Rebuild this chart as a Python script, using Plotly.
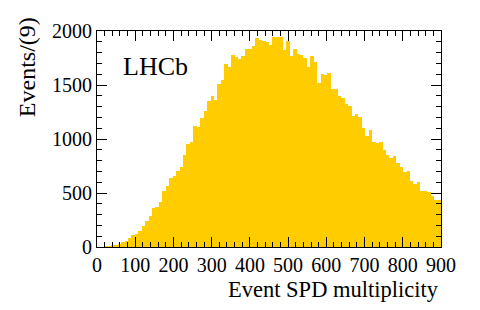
import numpy as np
import plotly.graph_objects as go

# Histogram: Event SPD multiplicity, bin width 9, range 0-900
bin_width = 9
x_min, x_max = 0, 900
counts = [
    0, 0, 2, 5, 10, 14, 27, 45, 52, 80,
    113, 122, 146, 191, 245, 285, 360, 368, 420, 520,
    565, 640, 660, 700, 740, 848, 950, 974, 1122, 1108,
    1198, 1262, 1356, 1399, 1361, 1512, 1543, 1697, 1663, 1780,
    1757, 1745, 1771, 1832, 1832, 1861, 1936, 1920, 1910, 1900,
    1872, 1947, 1942, 1944, 1824, 1903, 1765, 1830, 1790, 1776,
    1749, 1669, 1765, 1714, 1516, 1602, 1594, 1614, 1463, 1466,
    1394, 1380, 1323, 1305, 1214, 1229, 1203, 1100, 1030, 1084,
    976, 960, 972, 900, 855, 826, 842, 779, 743, 695,
    700, 615, 587, 601, 523, 518, 508, 475, 431, 437,
]
x_ticks = [0, 100, 200, 300, 400, 500, 600, 700, 800, 900]
y_ticks = [0, 500, 1000, 1500, 2000]
x_title = "Event SPD multiplicity"
y_title = "Events/(9)"
label = "LHCb"

centers = x_min + bin_width * (np.arange(len(counts)) + 0.5)

FONT = "Liberation Serif"
OFF = 8  # page body margin
W, H = 480 - OFF, 310 - OFF
L, T = 97 - OFF, 20 - OFF
pw, ph = 344, 227
R, B = W - L - pw, H - T - ph

def px_to_paper(px, py):
    # px, py in window pixel coordinates
    return (px - OFF - L) / pw, (T + ph - (py - OFF)) / ph

fig = go.Figure(go.Bar(
    x=centers, y=counts, width=bin_width,
    marker=dict(color="#FFCC00", line=dict(width=0)),
))

axis_common = dict(
    showline=True, linecolor="black", linewidth=1, mirror="allticks",
    ticks="inside", ticklen=10, tickwidth=1, tickcolor="black",
    showgrid=False, zeroline=False,
    tickfont=dict(family=FONT, size=20, color="black"),
)
fig.update_xaxes(range=[x_min, x_max], tickvals=x_ticks, ticklabelstandoff=0,
                 minor=dict(dtick=20, ticklen=5, ticks="inside", tickcolor="black", showgrid=False),
                 **axis_common)
fig.update_yaxes(range=[0, 2000], tickvals=y_ticks,
                 minor=dict(dtick=100, ticklen=5, ticks="inside", tickcolor="black", showgrid=False),
                 **axis_common)

ax, ay = px_to_paper(440, 292)
tx, ty = px_to_paper(27, 58)
lx, ly = px_to_paper(155, 57)
fig.add_annotation(text=x_title, xref="paper", yref="paper", x=ax, y=ay,
                   xanchor="right", yanchor="middle", showarrow=False, borderpad=0,
                   font=dict(family=FONT, size=22.5, color="black"))
fig.add_annotation(text=y_title, xref="paper", yref="paper", x=tx, y=ty,
                   xanchor="center", yanchor="middle", showarrow=False, textangle=-90,
                   font=dict(family=FONT, size=24, color="black"))
fig.add_annotation(text=label, xref="paper", yref="paper", x=lx, y=ly,
                   xanchor="center", yanchor="middle", showarrow=False,
                   font=dict(family=FONT, size=26, color="black"))

fig.update_layout(
    width=W, height=H, margin=dict(l=L, r=R, t=T, b=B),
    paper_bgcolor="white", plot_bgcolor="white",
    bargap=0, showlegend=False,
)
fig.write_html("out.html")
